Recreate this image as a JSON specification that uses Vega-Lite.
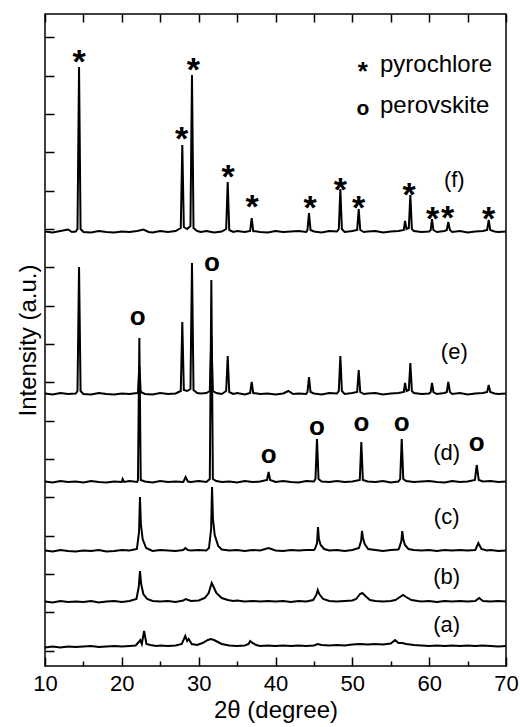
{
  "$schema": "https://vega.github.io/schema/vega-lite/v6.json",
  "width": 461,
  "height": 652,
  "autosize": {"type": "none"},
  "padding": {"left": 45, "top": 14, "right": 14, "bottom": 61},
  "background": "white",
  "config": {
    "font": "Liberation Sans, Arial, Helvetica, sans-serif",
    "text": {"font": "Liberation Sans, Arial, Helvetica, sans-serif"},
    "view": {"stroke": "black", "strokeWidth": 1.5},
    "axis": {"domain": false, "grid": false, "tickColor": "black", "tickWidth": 1.5, "labelColor": "black", "titleColor": "black", "labelFont": "Liberation Sans, Arial, Helvetica, sans-serif", "titleFont": "Liberation Sans, Arial, Helvetica, sans-serif", "titleFontWeight": "normal"}
  },
  "datasets": {
    "spectra": [
      {"s":"f","x":10,"y":434.5},{"s":"f","x":11,"y":433.5},{"s":"f","x":12,"y":435},{"s":"f","x":13,"y":436.5},{"s":"f","x":13.5,"y":434},{"s":"f","x":14,"y":434.5},{"s":"f","x":14.23,"y":437},{"s":"f","x":14.43,"y":599},{"s":"f","x":14.63,"y":437},{"s":"f","x":15,"y":434},{"s":"f","x":16,"y":433.5},{"s":"f","x":17,"y":435},{"s":"f","x":18,"y":434},{"s":"f","x":19,"y":433.5},{"s":"f","x":20,"y":434.5},{"s":"f","x":21,"y":434},{"s":"f","x":22,"y":435},{"s":"f","x":22.8,"y":436.5},{"s":"f","x":23.5,"y":434},{"s":"f","x":24,"y":433.5},{"s":"f","x":25,"y":435},{"s":"f","x":26,"y":434},{"s":"f","x":27,"y":435},{"s":"f","x":27.67,"y":438},{"s":"f","x":27.87,"y":521},{"s":"f","x":28.07,"y":439},{"s":"f","x":28.5,"y":437},{"s":"f","x":28.93,"y":440},{"s":"f","x":29.13,"y":591},{"s":"f","x":29.33,"y":438},{"s":"f","x":29.8,"y":435},{"s":"f","x":30.3,"y":434},{"s":"f","x":31,"y":435},{"s":"f","x":32,"y":433.5},{"s":"f","x":33,"y":434.5},{"s":"f","x":33.58,"y":437},{"s":"f","x":33.78,"y":484},{"s":"f","x":33.98,"y":436},{"s":"f","x":34.5,"y":434},{"s":"f","x":35,"y":435},{"s":"f","x":36,"y":434},{"s":"f","x":36.7,"y":435},{"s":"f","x":36.9,"y":448},{"s":"f","x":37.1,"y":435},{"s":"f","x":38,"y":434},{"s":"f","x":39,"y":433.5},{"s":"f","x":40,"y":435},{"s":"f","x":41,"y":434},{"s":"f","x":42,"y":434.5},{"s":"f","x":43,"y":435},{"s":"f","x":44,"y":434},{"s":"f","x":44.16,"y":436},{"s":"f","x":44.36,"y":453},{"s":"f","x":44.56,"y":436},{"s":"f","x":45,"y":434.5},{"s":"f","x":46,"y":433.5},{"s":"f","x":47,"y":435},{"s":"f","x":48,"y":434.5},{"s":"f","x":48.24,"y":437},{"s":"f","x":48.44,"y":477},{"s":"f","x":48.64,"y":437},{"s":"f","x":49,"y":434},{"s":"f","x":50,"y":435},{"s":"f","x":50.63,"y":436},{"s":"f","x":50.83,"y":457},{"s":"f","x":51.03,"y":436},{"s":"f","x":51.5,"y":434},{"s":"f","x":52,"y":434.5},{"s":"f","x":53,"y":435},{"s":"f","x":54,"y":433.5},{"s":"f","x":55,"y":434.5},{"s":"f","x":56,"y":435},{"s":"f","x":56.7,"y":436},{"s":"f","x":56.86,"y":445},{"s":"f","x":57.05,"y":437},{"s":"f","x":57.35,"y":438},{"s":"f","x":57.55,"y":471},{"s":"f","x":57.75,"y":437},{"s":"f","x":58,"y":435},{"s":"f","x":59,"y":434},{"s":"f","x":60,"y":434.5},{"s":"f","x":60.2,"y":436},{"s":"f","x":60.37,"y":447},{"s":"f","x":60.55,"y":436},{"s":"f","x":61,"y":434},{"s":"f","x":62,"y":435},{"s":"f","x":62.3,"y":436},{"s":"f","x":62.49,"y":444},{"s":"f","x":62.7,"y":436},{"s":"f","x":63,"y":434},{"s":"f","x":64,"y":435},{"s":"f","x":65,"y":433.5},{"s":"f","x":66,"y":434.5},{"s":"f","x":67,"y":435},{"s":"f","x":67.55,"y":436},{"s":"f","x":67.75,"y":446},{"s":"f","x":67.95,"y":436},{"s":"f","x":68.5,"y":434.5},{"s":"f","x":69,"y":434},{"s":"f","x":70,"y":434.5},

      {"s":"e","x":10,"y":272.5},{"s":"e","x":11,"y":271.5},{"s":"e","x":12,"y":273},{"s":"e","x":13,"y":272},{"s":"e","x":14,"y":272.5},{"s":"e","x":14.23,"y":275},{"s":"e","x":14.43,"y":399},{"s":"e","x":14.63,"y":275},{"s":"e","x":15,"y":272},{"s":"e","x":16,"y":271.5},{"s":"e","x":17,"y":273},{"s":"e","x":18,"y":272},{"s":"e","x":19,"y":271.5},{"s":"e","x":20,"y":272.5},{"s":"e","x":21,"y":272},{"s":"e","x":22,"y":273},{"s":"e","x":22.1,"y":274},{"s":"e","x":22.28,"y":300},{"s":"e","x":22.46,"y":274},{"s":"e","x":23,"y":272},{"s":"e","x":24,"y":271.5},{"s":"e","x":25,"y":273},{"s":"e","x":26,"y":272},{"s":"e","x":27,"y":272.5},{"s":"e","x":27.67,"y":275},{"s":"e","x":27.87,"y":344},{"s":"e","x":28.07,"y":276},{"s":"e","x":28.5,"y":275},{"s":"e","x":28.93,"y":277},{"s":"e","x":29.13,"y":403},{"s":"e","x":29.33,"y":276},{"s":"e","x":29.8,"y":273},{"s":"e","x":30.3,"y":272.5},{"s":"e","x":31,"y":273},{"s":"e","x":31.45,"y":275},{"s":"e","x":31.65,"y":330},{"s":"e","x":31.85,"y":275},{"s":"e","x":32.3,"y":273},{"s":"e","x":33,"y":272},{"s":"e","x":33.58,"y":275},{"s":"e","x":33.78,"y":310},{"s":"e","x":33.98,"y":274},{"s":"e","x":34.5,"y":272},{"s":"e","x":35,"y":273},{"s":"e","x":36,"y":271.5},{"s":"e","x":36.7,"y":273},{"s":"e","x":36.9,"y":284},{"s":"e","x":37.1,"y":273},{"s":"e","x":38,"y":272},{"s":"e","x":39,"y":272.5},{"s":"e","x":40,"y":271.5},{"s":"e","x":41,"y":272.5},{"s":"e","x":41.67,"y":275},{"s":"e","x":42.3,"y":272},{"s":"e","x":43,"y":272.5},{"s":"e","x":44,"y":272},{"s":"e","x":44.16,"y":274},{"s":"e","x":44.36,"y":289},{"s":"e","x":44.56,"y":274},{"s":"e","x":45,"y":272.5},{"s":"e","x":46,"y":271.5},{"s":"e","x":47,"y":273},{"s":"e","x":48,"y":272.5},{"s":"e","x":48.24,"y":275},{"s":"e","x":48.44,"y":310},{"s":"e","x":48.64,"y":275},{"s":"e","x":49,"y":272},{"s":"e","x":50,"y":273},{"s":"e","x":50.63,"y":274},{"s":"e","x":50.83,"y":296},{"s":"e","x":51.03,"y":274},{"s":"e","x":51.5,"y":272},{"s":"e","x":52,"y":272.5},{"s":"e","x":53,"y":273},{"s":"e","x":54,"y":271.5},{"s":"e","x":55,"y":272.5},{"s":"e","x":56,"y":273},{"s":"e","x":56.7,"y":274},{"s":"e","x":56.86,"y":283},{"s":"e","x":57.05,"y":275},{"s":"e","x":57.35,"y":276},{"s":"e","x":57.55,"y":303},{"s":"e","x":57.75,"y":275},{"s":"e","x":58,"y":273},{"s":"e","x":59,"y":272},{"s":"e","x":60,"y":272.5},{"s":"e","x":60.2,"y":274},{"s":"e","x":60.37,"y":283},{"s":"e","x":60.55,"y":274},{"s":"e","x":61,"y":272},{"s":"e","x":62,"y":273},{"s":"e","x":62.3,"y":274},{"s":"e","x":62.49,"y":284},{"s":"e","x":62.7,"y":274},{"s":"e","x":63,"y":272},{"s":"e","x":64,"y":273},{"s":"e","x":65,"y":271.5},{"s":"e","x":66,"y":272.5},{"s":"e","x":67,"y":273},{"s":"e","x":67.55,"y":274},{"s":"e","x":67.75,"y":281},{"s":"e","x":67.95,"y":274},{"s":"e","x":68.5,"y":272.5},{"s":"e","x":69,"y":272},{"s":"e","x":70,"y":272.5},

      {"s":"d","x":10,"y":184.5},{"s":"d","x":11,"y":183.5},{"s":"d","x":12,"y":185},{"s":"d","x":13,"y":184},{"s":"d","x":14,"y":184.5},{"s":"d","x":15,"y":183.5},{"s":"d","x":16,"y":185},{"s":"d","x":17,"y":184},{"s":"d","x":18,"y":183.5},{"s":"d","x":19,"y":184.5},{"s":"d","x":20,"y":184},{"s":"d","x":20.1,"y":187},{"s":"d","x":20.3,"y":184},{"s":"d","x":21,"y":185},{"s":"d","x":22,"y":184},{"s":"d","x":22.1,"y":186},{"s":"d","x":22.28,"y":328},{"s":"d","x":22.46,"y":186},{"s":"d","x":23,"y":184.5},{"s":"d","x":24,"y":183.5},{"s":"d","x":25,"y":185},{"s":"d","x":26,"y":184},{"s":"d","x":27,"y":184.5},{"s":"d","x":28,"y":184},{"s":"d","x":28.3,"y":189},{"s":"d","x":28.6,"y":184.5},{"s":"d","x":29,"y":184},{"s":"d","x":30,"y":185},{"s":"d","x":31,"y":184},{"s":"d","x":31.45,"y":187},{"s":"d","x":31.65,"y":386},{"s":"d","x":31.85,"y":187},{"s":"d","x":32.3,"y":185},{"s":"d","x":33,"y":184},{"s":"d","x":34,"y":184.5},{"s":"d","x":35,"y":183.5},{"s":"d","x":36,"y":185},{"s":"d","x":37,"y":184},{"s":"d","x":38,"y":184.5},{"s":"d","x":38.9,"y":186},{"s":"d","x":39.1,"y":194},{"s":"d","x":39.3,"y":186},{"s":"d","x":40,"y":184},{"s":"d","x":41,"y":185},{"s":"d","x":42,"y":184},{"s":"d","x":43,"y":183.5},{"s":"d","x":44,"y":185},{"s":"d","x":45,"y":184.5},{"s":"d","x":45.2,"y":187},{"s":"d","x":45.4,"y":227},{"s":"d","x":45.6,"y":187},{"s":"d","x":46,"y":184.5},{"s":"d","x":47,"y":184},{"s":"d","x":48,"y":185},{"s":"d","x":49,"y":184},{"s":"d","x":50,"y":184.5},{"s":"d","x":50.97,"y":186},{"s":"d","x":51.17,"y":224},{"s":"d","x":51.37,"y":186},{"s":"d","x":52,"y":184.5},{"s":"d","x":53,"y":184},{"s":"d","x":54,"y":185},{"s":"d","x":55,"y":183.5},{"s":"d","x":56,"y":184.5},{"s":"d","x":56.23,"y":187},{"s":"d","x":56.43,"y":227},{"s":"d","x":56.63,"y":187},{"s":"d","x":57,"y":185},{"s":"d","x":58,"y":184},{"s":"d","x":59,"y":184.5},{"s":"d","x":60,"y":185},{"s":"d","x":61,"y":184},{"s":"d","x":62,"y":183.5},{"s":"d","x":63,"y":185},{"s":"d","x":64,"y":184},{"s":"d","x":65,"y":184.5},{"s":"d","x":65.95,"y":186},{"s":"d","x":66.19,"y":201},{"s":"d","x":66.45,"y":186},{"s":"d","x":67,"y":184.5},{"s":"d","x":68,"y":185},{"s":"d","x":69,"y":184},{"s":"d","x":70,"y":184.5},

      {"s":"c","x":10,"y":115.5},{"s":"c","x":11,"y":114.5},{"s":"c","x":12,"y":116},{"s":"c","x":13,"y":115},{"s":"c","x":14,"y":114.5},{"s":"c","x":15,"y":115.5},{"s":"c","x":16,"y":115},{"s":"c","x":17,"y":116},{"s":"c","x":18,"y":114.5},{"s":"c","x":19,"y":115},{"s":"c","x":20,"y":116},{"s":"c","x":21,"y":115.5},{"s":"c","x":21.96,"y":117},{"s":"c","x":22.24,"y":134},{"s":"c","x":22.36,"y":169},{"s":"c","x":22.48,"y":142},{"s":"c","x":22.71,"y":127},{"s":"c","x":23.16,"y":118},{"s":"c","x":24,"y":115},{"s":"c","x":25,"y":116},{"s":"c","x":26,"y":115.5},{"s":"c","x":27,"y":115},{"s":"c","x":28,"y":116},{"s":"c","x":28.26,"y":118},{"s":"c","x":28.6,"y":116},{"s":"c","x":29,"y":115.5},{"s":"c","x":30,"y":116},{"s":"c","x":31,"y":115.5},{"s":"c","x":31.34,"y":118},{"s":"c","x":31.62,"y":137},{"s":"c","x":31.74,"y":179},{"s":"c","x":31.86,"y":147},{"s":"c","x":32.09,"y":131},{"s":"c","x":32.54,"y":120},{"s":"c","x":33,"y":116.5},{"s":"c","x":34,"y":115.5},{"s":"c","x":35,"y":116},{"s":"c","x":36,"y":115},{"s":"c","x":37,"y":116},{"s":"c","x":38,"y":115.5},{"s":"c","x":39.1,"y":118},{"s":"c","x":40,"y":115.5},{"s":"c","x":41,"y":115},{"s":"c","x":42,"y":116},{"s":"c","x":43,"y":115.5},{"s":"c","x":44,"y":116},{"s":"c","x":45,"y":116},{"s":"c","x":45.13,"y":117},{"s":"c","x":45.41,"y":123},{"s":"c","x":45.53,"y":139},{"s":"c","x":45.65,"y":127},{"s":"c","x":45.88,"y":121},{"s":"c","x":46.33,"y":117},{"s":"c","x":47,"y":115.5},{"s":"c","x":48,"y":116},{"s":"c","x":49,"y":115},{"s":"c","x":50,"y":116},{"s":"c","x":50.86,"y":118},{"s":"c","x":51.14,"y":125},{"s":"c","x":51.26,"y":135},{"s":"c","x":51.38,"y":128},{"s":"c","x":51.61,"y":122},{"s":"c","x":52.06,"y":117},{"s":"c","x":53,"y":116},{"s":"c","x":54,"y":115},{"s":"c","x":55,"y":116},{"s":"c","x":56,"y":116.5},{"s":"c","x":56.1,"y":118},{"s":"c","x":56.38,"y":125},{"s":"c","x":56.5,"y":135},{"s":"c","x":56.62,"y":127},{"s":"c","x":56.85,"y":121},{"s":"c","x":57.3,"y":117},{"s":"c","x":58,"y":116},{"s":"c","x":59,"y":115.5},{"s":"c","x":60,"y":116},{"s":"c","x":61,"y":115},{"s":"c","x":62,"y":116},{"s":"c","x":63,"y":115.5},{"s":"c","x":64,"y":116},{"s":"c","x":65,"y":115.5},{"s":"c","x":66,"y":116},{"s":"c","x":66.4,"y":123},{"s":"c","x":66.8,"y":117},{"s":"c","x":67.5,"y":115.5},{"s":"c","x":68,"y":116},{"s":"c","x":69,"y":115},{"s":"c","x":70,"y":115.5},

      {"s":"b","x":10,"y":64.5},{"s":"b","x":11,"y":63.5},{"s":"b","x":12,"y":65},{"s":"b","x":13,"y":64},{"s":"b","x":14,"y":64.5},{"s":"b","x":15,"y":64},{"s":"b","x":16,"y":65},{"s":"b","x":17,"y":63.5},{"s":"b","x":18,"y":64.5},{"s":"b","x":19,"y":65},{"s":"b","x":20,"y":64},{"s":"b","x":21,"y":65},{"s":"b","x":21.9,"y":67},{"s":"b","x":22.2,"y":79},{"s":"b","x":22.36,"y":95},{"s":"b","x":22.52,"y":82},{"s":"b","x":22.8,"y":72},{"s":"b","x":23.3,"y":67},{"s":"b","x":24,"y":65},{"s":"b","x":25,"y":64.5},{"s":"b","x":26,"y":65},{"s":"b","x":27,"y":64},{"s":"b","x":28,"y":65.5},{"s":"b","x":28.3,"y":67},{"s":"b","x":29,"y":65},{"s":"b","x":30,"y":65.5},{"s":"b","x":30.8,"y":68},{"s":"b","x":31.3,"y":73},{"s":"b","x":31.7,"y":83},{"s":"b","x":31.95,"y":79},{"s":"b","x":32.3,"y":73},{"s":"b","x":33,"y":68},{"s":"b","x":33.8,"y":66},{"s":"b","x":34.5,"y":65},{"s":"b","x":35,"y":65.5},{"s":"b","x":36,"y":64.5},{"s":"b","x":37,"y":65},{"s":"b","x":38,"y":64.5},{"s":"b","x":39,"y":65},{"s":"b","x":40,"y":64.5},{"s":"b","x":41,"y":65},{"s":"b","x":42,"y":64},{"s":"b","x":43,"y":65},{"s":"b","x":44,"y":64.5},{"s":"b","x":44.9,"y":66},{"s":"b","x":45.3,"y":71},{"s":"b","x":45.5,"y":76},{"s":"b","x":45.7,"y":72},{"s":"b","x":46.2,"y":67},{"s":"b","x":47,"y":65},{"s":"b","x":48,"y":64.5},{"s":"b","x":49,"y":65},{"s":"b","x":50,"y":65.5},{"s":"b","x":50.5,"y":67},{"s":"b","x":51,"y":72},{"s":"b","x":51.3,"y":73},{"s":"b","x":51.7,"y":70},{"s":"b","x":52.3,"y":66},{"s":"b","x":53,"y":65},{"s":"b","x":54,"y":64.5},{"s":"b","x":55,"y":65},{"s":"b","x":55.6,"y":66},{"s":"b","x":56.2,"y":69},{"s":"b","x":56.6,"y":71},{"s":"b","x":57,"y":69},{"s":"b","x":57.7,"y":66},{"s":"b","x":58.5,"y":65},{"s":"b","x":59,"y":64.5},{"s":"b","x":60,"y":65},{"s":"b","x":61,"y":64},{"s":"b","x":62,"y":65},{"s":"b","x":63,"y":64.5},{"s":"b","x":64,"y":65},{"s":"b","x":65,"y":64.5},{"s":"b","x":66,"y":65},{"s":"b","x":66.5,"y":68},{"s":"b","x":67,"y":65},{"s":"b","x":68,"y":64.5},{"s":"b","x":69,"y":65},{"s":"b","x":70,"y":64.5},

      {"s":"a","x":10,"y":18.5},{"s":"a","x":11,"y":19.5},{"s":"a","x":12,"y":18.5},{"s":"a","x":13,"y":19.5},{"s":"a","x":14,"y":19},{"s":"a","x":15,"y":19.5},{"s":"a","x":16,"y":20},{"s":"a","x":17,"y":19},{"s":"a","x":18,"y":19.5},{"s":"a","x":19,"y":20},{"s":"a","x":20,"y":19.5},{"s":"a","x":21,"y":20},{"s":"a","x":21.8,"y":20.5},{"s":"a","x":22.2,"y":24},{"s":"a","x":22.4,"y":26},{"s":"a","x":22.6,"y":22},{"s":"a","x":22.9,"y":35},{"s":"a","x":23.2,"y":22},{"s":"a","x":23.7,"y":21},{"s":"a","x":24.5,"y":20},{"s":"a","x":25,"y":20.5},{"s":"a","x":26,"y":20},{"s":"a","x":27,"y":20.5},{"s":"a","x":27.8,"y":22},{"s":"a","x":28.26,"y":30},{"s":"a","x":28.5,"y":25},{"s":"a","x":28.7,"y":27},{"s":"a","x":29.1,"y":22},{"s":"a","x":29.8,"y":21},{"s":"a","x":30.5,"y":23},{"s":"a","x":31.2,"y":26},{"s":"a","x":31.6,"y":27},{"s":"a","x":32,"y":26},{"s":"a","x":32.5,"y":24},{"s":"a","x":33,"y":22},{"s":"a","x":34,"y":20.5},{"s":"a","x":35,"y":20},{"s":"a","x":36,"y":20.5},{"s":"a","x":36.5,"y":22},{"s":"a","x":36.7,"y":25},{"s":"a","x":37,"y":23},{"s":"a","x":37.5,"y":21},{"s":"a","x":38,"y":20},{"s":"a","x":39,"y":20.5},{"s":"a","x":40,"y":20},{"s":"a","x":41,"y":20.5},{"s":"a","x":42,"y":20},{"s":"a","x":43,"y":20.5},{"s":"a","x":44,"y":20},{"s":"a","x":45,"y":20.5},{"s":"a","x":45.5,"y":22},{"s":"a","x":46,"y":21},{"s":"a","x":47,"y":20.5},{"s":"a","x":48,"y":21},{"s":"a","x":49,"y":20.5},{"s":"a","x":50,"y":21.5},{"s":"a","x":51,"y":22},{"s":"a","x":52,"y":21.5},{"s":"a","x":53,"y":22},{"s":"a","x":54,"y":21.5},{"s":"a","x":55,"y":22.5},{"s":"a","x":55.56,"y":26},{"s":"a","x":56,"y":23},{"s":"a","x":56.5,"y":23},{"s":"a","x":57,"y":22},{"s":"a","x":58,"y":21},{"s":"a","x":59,"y":20.5},{"s":"a","x":60,"y":20},{"s":"a","x":61,"y":20.5},{"s":"a","x":62,"y":20},{"s":"a","x":63,"y":20.5},{"s":"a","x":64,"y":20},{"s":"a","x":65,"y":20.5},{"s":"a","x":66,"y":20},{"s":"a","x":67,"y":20.5},{"s":"a","x":68,"y":20},{"s":"a","x":69,"y":19.5},{"s":"a","x":70,"y":20}
    ],
    "stars": [
      {"x":14.43,"y":603},{"x":27.79,"y":526},{"x":29.3,"y":595},{"x":33.82,"y":488},{"x":36.94,"y":458},{"x":44.49,"y":457},{"x":48.44,"y":475},{"x":50.83,"y":457},{"x":57.38,"y":470.5},{"x":60.46,"y":446},{"x":62.41,"y":447},{"x":67.75,"y":446}
    ],
    "circles": [
      {"x":22.07,"y":348.7},{"x":31.74,"y":403.3},{"x":39.12,"y":211},{"x":45.4,"y":239.3},{"x":51.17,"y":242.7},{"x":56.43,"y":242.7},{"x":66.19,"y":223.3}
    ],
    "labels": [
      {"x":63.27,"y":486,"t":"(f)"},{"x":63.27,"y":314.3,"t":"(e)"},{"x":62.28,"y":212.7,"t":"(d)"},{"x":62.28,"y":149.3,"t":"(c)"},{"x":62.28,"y":89.3,"t":"(b)"},{"x":62.28,"y":41,"t":"(a)"}
    ],
    "legendStar": [{"x":51.35,"y":594}],
    "legendCircle": [{"x":51.36,"y":557}],
    "legendText": [{"x":53.6,"y":594,"t":"pyrochlore"},{"x":53.6,"y":553.3,"t":"perovskite"}]
  },
  "layer": [
    {
      "data": {"name": "spectra"},
      "mark": {"type": "line", "color": "black", "strokeWidth": 2, "interpolate": "linear"},
      "encoding": {
        "x": {"field": "x", "type": "quantitative", "scale": {"domain": [10, 70], "nice": false, "zero": false},
              "axis": {"orient": "bottom", "values": [10, 20, 30, 40, 50, 60, 70], "tickSize": -9, "labelFontSize": 22, "labelPadding": 16, "labelFlush": false, "title": "2θ (degree)", "titleFontSize": 24, "titlePadding": 4}},
        "y": {"field": "y", "type": "quantitative", "scale": {"domain": [0, 652], "nice": false, "zero": false},
              "axis": {"orient": "left", "values": [15.4, 53.7, 92, 130.4, 168.7, 207, 245.4, 283.7, 322, 360.4, 398.7, 437, 475.4, 513.7, 552, 590.4, 628.7], "tickSize": -9, "labels": false, "title": "Intensity (a.u.)", "titleFontSize": 24, "titlePadding": 4}},
        "detail": {"field": "s", "type": "nominal"}
      }
    },
    {
      "data": {"name": "stars"},
      "mark": {"type": "text", "text": "*", "fontSize": 34, "fontWeight": "bold", "color": "black", "baseline": "middle", "align": "center"},
      "encoding": {
        "x": {"field": "x", "type": "quantitative", "axis": {"orient": "bottom", "values": [15, 25, 35, 45, 55, 65], "tickSize": -5, "labels": false, "title": null}},
        "y": {"field": "y", "type": "quantitative", "axis": null}
      }
    },
    {
      "data": {"name": "circles"},
      "mark": {"type": "text", "text": "o", "fontSize": 26, "fontWeight": "bold", "color": "black", "baseline": "middle", "align": "center"},
      "encoding": {
        "x": {"field": "x", "type": "quantitative", "axis": {"orient": "top", "values": [10, 15, 20, 25, 30, 35, 40, 45, 50, 55, 60, 65, 70], "tickSize": -8, "labels": false, "title": null}},
        "y": {"field": "y", "type": "quantitative", "axis": null}
      }
    },
    {
      "data": {"name": "labels"},
      "mark": {"type": "text", "fontSize": 22, "color": "black", "baseline": "middle", "align": "center"},
      "encoding": {
        "x": {"field": "x", "type": "quantitative", "axis": null},
        "y": {"field": "y", "type": "quantitative", "axis": null},
        "text": {"field": "t"}
      }
    },
    {
      "data": {"name": "legendStar"},
      "mark": {"type": "text", "text": "*", "fontSize": 26, "fontWeight": "bold", "color": "black", "baseline": "middle", "align": "center"},
      "encoding": {
        "x": {"field": "x", "type": "quantitative", "axis": null},
        "y": {"field": "y", "type": "quantitative", "axis": null}
      }
    },
    {
      "data": {"name": "legendCircle"},
      "mark": {"type": "text", "text": "o", "fontSize": 21, "fontWeight": "bold", "color": "black", "baseline": "middle", "align": "center"},
      "encoding": {
        "x": {"field": "x", "type": "quantitative", "axis": null},
        "y": {"field": "y", "type": "quantitative", "axis": null}
      }
    },
    {
      "data": {"name": "legendText"},
      "mark": {"type": "text", "fontSize": 24, "color": "black", "baseline": "alphabetic", "align": "left"},
      "encoding": {
        "x": {"field": "x", "type": "quantitative", "axis": null},
        "y": {"field": "y", "type": "quantitative", "axis": null},
        "text": {"field": "t"}
      }
    }
  ],
  "resolve": {"axis": {"x": "independent", "y": "independent"}}
}
